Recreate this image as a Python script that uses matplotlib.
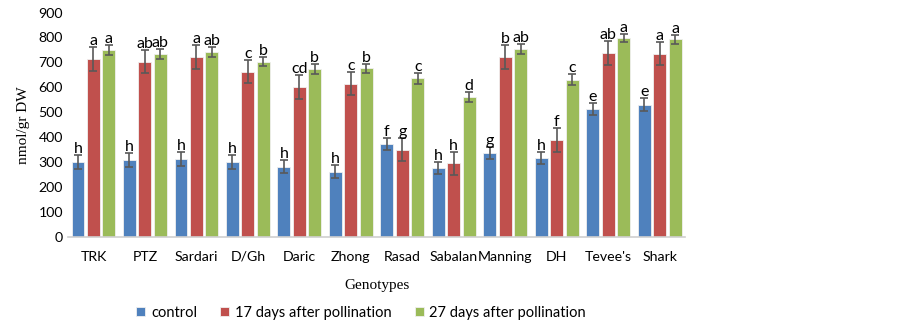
import matplotlib.pyplot as plt
import numpy as np

genotypes = ["TRK", "PTZ", "Sardari", "D/Gh", "Daric", "Zhong", "Rasad",
             "Sabalan", "Manning", "DH", "Tevee's", "Shark"]

control = [302, 307, 312, 300, 282, 261, 373, 276, 336, 316, 514, 531]
control_err = [28, 28, 27, 28, 25, 26, 25, 24, 25, 24, 25, 25]
control_lbl = ["h", "h", "h", "h", "h", "h", "f", "h", "g", "h", "e", "e"]

d17 = [712, 702, 721, 663, 603, 615, 349, 296, 720, 388, 738, 735]
d17_err = [48, 46, 48, 47, 48, 47, 46, 46, 48, 48, 47, 47]
d17_lbl = ["a", "ab", "a", "c", "cd", "c", "g", "h", "b", "f", "ab", "a"]

d27 = [748, 732, 740, 702, 673, 677, 636, 561, 753, 631, 799, 793]
d27_err = [20, 20, 20, 18, 20, 18, 22, 20, 19, 21, 16, 18]
d27_lbl = ["a", "ab", "ab", "b", "b", "b", "c", "d", "ab", "c", "a", "a"]

series = [
    ("control", control, control_err, control_lbl, "#4F81BD"),
    ("17 days after pollination", d17, d17_err, d17_lbl, "#C0504D"),
    ("27 days after pollination", d27, d27_err, d27_lbl, "#9BBB59"),
]

plt.rcParams['font.family'] = ['Lato', 'DejaVu Sans']

fig = plt.figure(figsize=(9.03, 3.21), dpi=100)
ax = fig.add_axes([0.075, 0.262, 0.684, 0.699])

x = np.arange(len(genotypes))
width = 0.25
for i, (name, vals, errs, lbls, color) in enumerate(series):
    pos = x + (i - 1) * 0.3
    ax.bar(pos, vals, width, color=color, edgecolor="#f0f0f0", linewidth=0.6,
           label=name, zorder=2)
    ax.errorbar(pos, vals, yerr=errs, fmt="none", ecolor="#595959",
                elinewidth=1.2, capsize=3, capthick=1.2, zorder=3)
    for p, v, e, t in zip(pos, vals, errs, lbls):
        ax.text(p, v + e - 4, t, ha="center", va="bottom", fontsize=11.5)

ax.set_xlim(-0.5, len(genotypes) - 0.5)
ax.set_ylim(0, 900)
ax.set_yticks(range(0, 901, 100))
ax.set_xticks(x)
ax.set_xticklabels(genotypes, fontsize=10.2)
ax.tick_params(axis="both", length=0, labelsize=10.2)
ax.tick_params(axis="x", pad=10)
for s in ["top", "right", "left"]:
    ax.spines[s].set_visible(False)
ax.spines["bottom"].set_color("#d0d0d0")
ax.spines["bottom"].set_linewidth(1.2)

ax.set_ylabel("nmol/gr DW", family="Liberation Serif", fontsize=11, labelpad=6)
ax.set_xlabel("Genotypes", family="Liberation Serif", fontsize=11, labelpad=12)

handles, labels = ax.get_legend_handles_labels()
fig.legend(handles, labels, loc="center", bbox_to_anchor=(0.4, 0.025), ncol=3,
           frameon=False, fontsize=10.5, handlelength=0.6, handleheight=0.6,
           handletextpad=0.4, columnspacing=1.6)

fig.savefig("out.png", dpi=100)
